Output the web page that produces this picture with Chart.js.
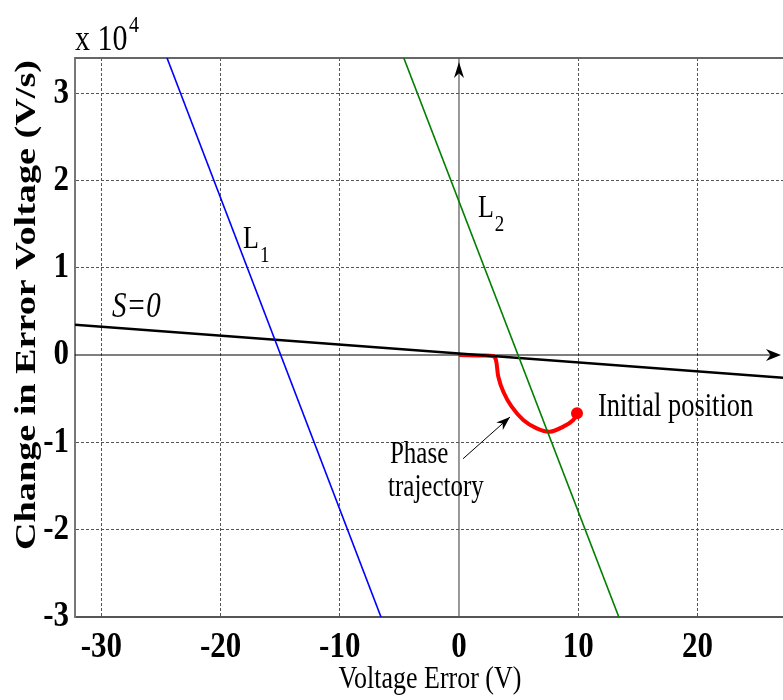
<!DOCTYPE html>
<html>
<head>
<meta charset="utf-8">
<script src="https://cdn.jsdelivr.net/npm/chart.js@4.4.0/dist/chart.umd.min.js"></script>
<style>
  html, body { margin: 0; padding: 0; background: #fff; overflow: hidden; }
</style>
</head>
<body>
<canvas id="phase" width="783" height="700"></canvas>
<script>
// tick positions
const xTickValues = [-30, -20, -10, 0, 10, 20];
const yTickValues = [-30000, -20000, -10000, 0, 10000, 20000, 30000];

// switching lines L1, L2 and the sliding surface S=0 (x in V, y in V/s)
const l1X = [-24.5, -6.5];
const l1Y = [34100, -30200];
const l2X = [-4.64, 13.45];
const l2Y = [34100, -30200];
const sX = [-32.3, 27.3];
const sY = [3490, -2610];

// phase trajectory, origin back to the starting state
const trajX = [0, 1.5, 2.85, 3.1, 3.3, 3.72, 4.42, 5.39, 6.52, 7.63, 8.75, 9.59, 9.9];
const trajY = [0, -60, -120, -570, -2490, -4210, -5930, -7450, -8410, -8800, -8220, -7450, -6690];
const initX = [9.9];
const initY = [-6690];

const pts = (xs, ys) => xs.map((x, i) => ({ x: x, y: ys[i] }));

const SERIF = '"Liberation Serif", "Times New Roman", serif';

// text drawn with a vertical stretch
function label(ctx, text, x, y, font, sy, align, base) {
  ctx.save();
  ctx.translate(x, y);
  ctx.scale(1, sy);
  ctx.font = font;
  ctx.textAlign = align || 'left';
  ctx.textBaseline = base || 'alphabetic';
  ctx.fillStyle = '#000';
  ctx.fillText(text, 0, 0);
  ctx.restore();
}

function arrowHead(ctx, tx, ty, angle, len, half) {
  ctx.save();
  ctx.translate(tx, ty);
  ctx.rotate(angle);
  ctx.beginPath();
  ctx.moveTo(0, 0);
  ctx.lineTo(-len, -half);
  ctx.lineTo(-len * 0.7, 0);
  ctx.lineTo(-len, half);
  ctx.closePath();
  ctx.fillStyle = '#000';
  ctx.fill();
  ctx.restore();
}

const axesPlugin = {
  id: 'axesPlugin',
  beforeDatasetsDraw(chart) {
    const { ctx, chartArea: a, scales: { x, y } } = chart;
    const x0 = x.getPixelForValue(0);
    const y0 = y.getPixelForValue(0);
    ctx.save();
    // top edge of the box
    ctx.strokeStyle = '#666';
    ctx.lineWidth = 2;
    ctx.beginPath();
    ctx.moveTo(a.left, a.top);
    ctx.lineTo(a.right, a.top);
    ctx.stroke();
    // e-axis and de/dt axis
    ctx.lineWidth = 1.2;
    ctx.strokeStyle = '#555';
    ctx.beginPath();
    ctx.moveTo(x0, a.bottom);
    ctx.lineTo(x0, a.top);
    ctx.stroke();
    ctx.strokeStyle = '#000';
    ctx.beginPath();
    ctx.moveTo(a.left, y0);
    ctx.lineTo(a.right - 6, y0);
    ctx.stroke();
    ctx.restore();
    arrowHead(ctx, x0, a.top + 4, -Math.PI / 2, 16, 5);
    arrowHead(ctx, a.right - 2, y0, 0, 15, 6);
  },
  afterDraw(chart) {
    const { ctx, chartArea: a, scales: { x, y } } = chart;
    const tickFont = 'bold 31px ' + SERIF;
    xTickValues.forEach(v => {
      label(ctx, String(v), x.getPixelForValue(v), a.bottom + 40, tickFont, 1.18, 'center');
    });
    yTickValues.forEach(v => {
      label(ctx, String(v / 10000), a.left - 6, y.getPixelForValue(v), tickFont, 1.18, 'right', 'middle');
    });
    // exponent
    label(ctx, 'x 10', a.left, a.top - 8, '30px ' + SERIF, 1.2);
    label(ctx, '4', a.left + 54, a.top - 26, '20px ' + SERIF, 1.2);

    // axis titles
    label(ctx, 'Voltage Error (V)', 430, 688, '26px ' + SERIF, 1.24, 'center');
    ctx.save();
    ctx.translate(27, 305);
    ctx.rotate(-Math.PI / 2);
    ctx.font = 'bold 30px ' + SERIF;
    const yt = 'Change in Error Voltage (V/s)';
    const w = ctx.measureText(yt).width;
    ctx.scale(490 / w, 1);
    ctx.textAlign = 'center';
    ctx.textBaseline = 'middle';
    ctx.fillStyle = '#000';
    ctx.fillText(yt, 0, 0);
    ctx.restore();

    // annotations
    const px = v => x.getPixelForValue(v);
    const py = v => y.getPixelForValue(v);
    label(ctx, 'S=0', px(-29.1), py(4360), 'italic 29px ' + SERIF, 1.2);
    label(ctx, 'L', px(-18.12), py(12270), '26px ' + SERIF, 1.22);
    label(ctx, '1', px(-16.7), py(10650), '19px ' + SERIF, 1.22);
    label(ctx, 'L', px(1.59), py(15830), '26px ' + SERIF, 1.22);
    label(ctx, '2', px(3.0), py(14200), '19px ' + SERIF, 1.22);
    label(ctx, 'Phase', px(-5.79), py(-12390), '25px ' + SERIF, 1.24);
    label(ctx, 'trajectory', px(-5.95), py(-16170), '25px ' + SERIF, 1.24);
    label(ctx, 'Initial position', px(11.66), py(-7000), '26.5px ' + SERIF, 1.24);

    // pointer to the trajectory
    const ax0 = px(0.34), ay0 = py(-11900), ax1 = px(4.28), ay1 = py(-7110);
    ctx.save();
    ctx.strokeStyle = '#000';
    ctx.lineWidth = 1;
    ctx.beginPath();
    ctx.moveTo(ax0, ay0);
    ctx.lineTo(ax1, ay1);
    ctx.stroke();
    ctx.restore();
    arrowHead(ctx, ax1, ay1, Math.atan2(ay1 - ay0, ax1 - ax0), 14, 5);
  }
};

const gridColor = c => (c.tick && c.tick.value === 0 ? 'rgba(0,0,0,0)' : '#555');

new Chart(document.getElementById('phase'), {
  type: 'scatter',
  data: {
    datasets: [
      { label: 'L1', data: pts(l1X, l1Y), showLine: true, borderColor: '#0000ff', borderWidth: 1.6, pointRadius: 0 },
      { label: 'L2', data: pts(l2X, l2Y), showLine: true, borderColor: '#008000', borderWidth: 1.6, pointRadius: 0 },
      { label: 'S=0', data: pts(sX, sY), showLine: true, borderColor: '#000', borderWidth: 2.5, pointRadius: 0 },
      { label: 'Phase trajectory', data: pts(trajX, trajY), showLine: true, borderColor: '#ff0000', borderWidth: 4, pointRadius: 0, tension: 0.35 },
      { label: 'Initial position', data: pts(initX, initY), pointRadius: 6, backgroundColor: '#ff0000', borderWidth: 0 }
    ]
  },
  options: {
    responsive: false,
    animation: false,
    layout: { autoPadding: false, padding: { left: 75, top: 58, right: 0, bottom: 83 } },
    plugins: { legend: { display: false }, tooltip: { enabled: false } },
    scales: {
      x: {
        type: 'linear',
        min: -32.21,
        max: 27.18,
        afterBuildTicks: s => { s.ticks = xTickValues.map(v => ({ value: v })); },
        ticks: { display: false },
        grid: { color: gridColor, lineWidth: 1, drawTicks: false },
        border: { display: true, color: '#555', width: 2, dash: [3, 2] }
      },
      y: {
        type: 'linear',
        min: -30050,
        max: 34060,
        afterBuildTicks: s => { s.ticks = yTickValues.map(v => ({ value: v })); },
        ticks: { display: false },
        grid: { color: gridColor, lineWidth: 1, drawTicks: false },
        border: { display: true, color: '#777', width: 2, dash: [3, 2] }
      }
    }
  },
  plugins: [axesPlugin]
});
</script>
</body>
</html>
